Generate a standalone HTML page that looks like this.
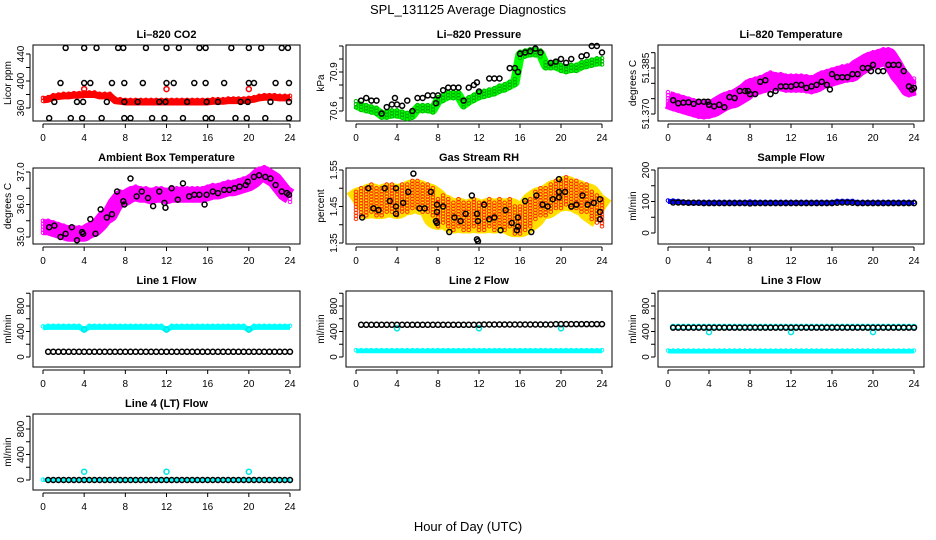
<!DOCTYPE html>
<html><head><meta charset="utf-8"><style>
body{margin:0;background:#fff}
svg{display:block;font-family:"Liberation Sans",sans-serif}
</style></head><body>
<svg id="c" width="936" height="540" viewBox="0 0 936 540">
<text x="468" y="14" text-anchor="middle" font-size="13">SPL_131125  Average Diagnostics</text>
<text x="468" y="531" text-anchor="middle" font-size="13">Hour of Day (UTC)</text>
</svg>
<script>
const HH=[0,0.5,1,1.5,2,2.5,3,3.5,4,4.5,5,5.5,6,6.5,7,7.5,8,8.5,9,9.5,10,10.5,11,11.5,12,12.5,13,13.5,14,14.5,15,15.5,16,16.5,17,17.5,18,18.5,19,19.5,20,20.5,21,21.5,22,22.5,23,23.5,24];
const XTICKS=[0,4,8,12,16,20,24];
// CO2
const co2Band=[372,373,376,377,378,378,379,379,380,380,380,378,378,378,371,370,369,369,369,369,369,369,369,369,369,369,369,369,369,369,369,369,369,370,370,370,371,371,371,371,372,373,375,376,376,376,375,375,375];
const co2RedT=[4,12,20];const co2RedV=[388,388,388];
const co2BlkT=[2.2,4,5.2,7.3,7.8,10,12,13.2,15.2,15.8,18.3,20,21.2,23.2,23.8,1.7,4,4.6,6.7,7.9,9.7,12,12.7,14.7,15.8,17.6,20,20.5,22.6,23.9,1.1,3.3,3.9,6.2,7.9,9.2,11.3,11.9,14,15.9,17,19.2,19.9,22.1,23.9,0.6,2.7,3.8,5.7,7.9,8.5,10.6,11.8,13.6,15.8,16.4,18.7,19.8,21.6,23.9];
const co2BlkV=[449,449,449,449,449,449,449,449,449,449,449,449,449,449,449,397,397,397,397,397,397,397,397,397,397,397,397,397,397,397,369,369,369,369,369,369,369,369,369,369,369,369,369,369,369,345,345,345,345,345,345,345,345,345,345,345,345,345,345,345];
// Pressure
const presBand=[70.65,70.63,70.62,70.61,70.6,70.57,70.57,70.58,70.58,70.57,70.56,70.57,70.62,70.62,70.62,70.61,70.68,70.7,70.72,70.72,70.72,70.65,70.68,70.7,70.72,70.73,70.74,70.75,70.77,70.78,70.8,70.82,71.03,71.04,71.05,71.05,71.04,70.95,70.95,70.95,70.93,70.92,70.93,70.93,70.95,70.96,70.97,70.98,70.98];
const presBlkT=[0.5,1,1.5,2,2.5,3,3.5,3.8,4,4.5,5,5.5,6,6.5,7,7.5,7.8,8,8.5,9,9.5,10,10.5,11,11.5,11.8,12,13,13.5,14,15,15.5,15.8,16,16.5,17,17.5,18,19,19.5,20,20.5,21,22,22.5,23,23.5,24];
const presBlkV=[70.68,70.7,70.68,70.68,70.58,70.63,70.65,70.7,70.65,70.64,70.68,70.6,70.7,70.7,70.72,70.72,70.66,70.72,70.76,70.78,70.78,70.78,70.68,70.78,70.8,70.82,70.75,70.85,70.85,70.85,70.93,70.93,70.9,71.04,71.05,71.06,71.08,71.05,70.97,70.98,71.0,70.97,71.0,71.02,71.03,71.1,71.1,71.05];
// Li-820 temperature
const tempBand=[51.3746,51.374,51.3735,51.373,51.3725,51.372,51.3715,51.3713,51.3715,51.372,51.373,51.374,51.3746,51.375,51.376,51.377,51.3785,51.379,51.3795,51.380,51.381,51.3805,51.3805,51.380,51.380,51.380,51.380,51.3798,51.3795,51.380,51.381,51.3815,51.382,51.3825,51.383,51.3833,51.3835,51.385,51.386,51.387,51.3876,51.388,51.3886,51.3886,51.386,51.383,51.381,51.3785,51.379];
const tempBlkT=[0.5,1,1.5,2,2.5,3,3.5,3.9,4,4.5,5,5.5,6,6.5,7,7.5,7.8,8,8.5,9,9.5,10,10.5,11,11.5,12,12.5,13,13.5,14,14.5,15,15.5,15.8,16,16.5,17,17.5,18,18.5,19,19.5,19.8,20,20.5,21,21.5,22,22.5,23,23.5,23.8,24];
const tempBlkV=[51.3745,51.3735,51.3737,51.3738,51.3733,51.374,51.374,51.374,51.373,51.3725,51.373,51.3722,51.3755,51.3752,51.3775,51.3775,51.3775,51.3765,51.3765,51.3805,51.381,51.3765,51.3775,51.379,51.379,51.379,51.3795,51.3795,51.3785,51.379,51.3795,51.3805,51.3795,51.378,51.383,51.382,51.382,51.382,51.383,51.383,51.385,51.385,51.384,51.386,51.384,51.384,51.386,51.386,51.386,51.384,51.379,51.378,51.3785];
// Ambient
const ambBand=[35.3,35.3,35.25,35.2,35.15,35.1,35.1,35.1,35.1,35.2,35.25,35.4,35.6,35.7,36.0,36.2,36.2,36.3,36.35,36.3,36.3,36.25,36.3,36.3,36.25,36.3,36.3,36.3,36.3,36.3,36.3,36.3,36.35,36.4,36.4,36.45,36.5,36.5,36.55,36.6,36.65,36.75,36.9,36.95,36.85,36.75,36.55,36.35,36.25];
const ambBlkT=[0.6,1.1,1.7,2.2,2.8,3.3,3.8,3.9,4.6,5.1,5.6,6.2,6.7,7.2,7.8,7.9,8.5,9.1,9.6,10.2,10.7,11.3,11.8,11.9,12.5,13.1,13.6,14.2,14.7,15.2,15.7,15.9,16.5,17.0,17.6,18.1,18.6,19.1,19.7,19.9,20.5,21.0,21.6,22.1,22.6,23.2,23.7,23.9];
const ambBlkV=[35.3,35.35,35.0,35.1,35.3,34.9,35.15,35.1,35.55,35.1,35.85,35.6,35.7,36.4,36.1,36.0,36.8,36.25,36.4,36.2,35.95,36.4,36.05,35.9,36.5,36.15,36.65,36.25,36.3,36.3,36.0,36.3,36.4,36.35,36.45,36.45,36.5,36.55,36.6,36.7,36.85,36.9,36.85,36.8,36.6,36.4,36.35,36.3];
// RH
const rhBand=[1.45,1.46,1.46,1.47,1.46,1.46,1.47,1.47,1.46,1.47,1.47,1.48,1.48,1.47,1.47,1.46,1.43,1.44,1.43,1.42,1.43,1.42,1.42,1.43,1.42,1.42,1.43,1.42,1.43,1.42,1.43,1.41,1.41,1.42,1.43,1.45,1.46,1.46,1.47,1.48,1.48,1.49,1.48,1.48,1.47,1.47,1.45,1.44,1.43];
const rhBlkT=[0.6,1.2,1.7,2.2,2.8,3.3,3.9,3.9,3.9,4.6,5.1,5.6,6.2,6.7,7.3,7.9,7.9,7.8,7.9,8.5,9.1,9.6,10.2,10.7,11.3,11.8,11.9,11.8,11.9,12.5,13.0,13.5,14.1,14.6,15.2,15.7,15.8,15.8,16.5,17.1,17.6,18.2,18.7,19.2,19.8,19.8,19.8,20.4,21.0,21.5,22.1,22.6,23.2,23.8,23.8,23.8];
const rhBlkV=[1.42,1.5,1.445,1.44,1.5,1.465,1.5,1.45,1.43,1.46,1.49,1.54,1.445,1.445,1.49,1.455,1.435,1.41,1.405,1.45,1.38,1.42,1.41,1.43,1.48,1.43,1.41,1.36,1.355,1.455,1.415,1.42,1.385,1.44,1.405,1.385,1.395,1.42,1.465,1.38,1.48,1.455,1.45,1.47,1.525,1.49,1.475,1.49,1.45,1.455,1.48,1.455,1.46,1.47,1.435,1.415];
// Flows (half-hourly black values, starting at 0.5 h)
const sfBand=[100,100,99,97,96,96,96,96,96,96,96,96,96,96,96,96,97,96,96,96,96,96,96,96,96,96,96,96,96,96,96,96,96,99,99,99,99,96,96,96,96,96,96,96,96,96,96,96,96];
const sfBlk=[97,97,97,96,96,96,95,95,95,95,95,95,95,95,95,94,95,95,95,95,95,95,95,95,95,95,95,95,95,95,95,95,96,97,97,96,95,95,95,95,95,95,95,95,95,95,95,95];
const l1Cyan=[460,470,470,470,470,470,470,470,430,470,470,470,470,470,470,470,470,470,470,470,470,470,470,470,430,470,470,470,470,470,470,470,470,470,470,470,470,470,470,470,430,470,470,470,470,470,470,470,470];
const l1Blk=[82,82,82,82,82,82,82,82,82,82,82,82,82,82,82,82,82,82,82,82,82,82,82,82,82,82,82,82,82,82,82,82,82,82,82,82,82,82,82,82,82,82,82,82,82,82,82,82];
const l2Cyan=[95,95,95,95,95,95,95,95,95,95,95,95,95,95,95,95,95,95,95,95,95,95,95,95,95,95,95,95,95,95,95,95,95,95,95,95,95,95,95,95,95,95,95,95,95,95,95,95,95];
const l2Blk=[505,505,505,505,505,505,505,505,505,505,505,505,505,505,505,505,505,505,505,505,505,505,505,505,510,510,510,510,510,510,510,510,510,510,510,510,510,510,515,515,515,515,515,515,515,515,515,515];
const l3Cyan=[90,90,90,90,90,90,90,90,90,90,90,90,90,90,90,90,90,90,90,90,90,90,90,90,90,90,90,90,90,90,90,90,90,90,90,90,90,90,90,90,90,90,90,90,90,90,90,90,90];
const l3Blk=[460,460,460,460,460,460,460,460,460,460,460,460,460,460,460,460,460,460,460,460,460,460,460,460,460,460,460,460,460,460,460,460,460,460,460,460,460,460,460,460,460,460,460,460,460,460,460,460];
const l4Cyan=[0,0,0,0,0,0,0,0,0,0,0,0,0,0,0,0,0,0,0,0,0,0,0,0,0,0,0,0,0,0,0,0,0,0,0,0,0,0,0,0,0,0,0,0,0,0,0,0,0];
const l4Blk=[0,0,0,0,0,0,0,0,0,0,0,0,0,0,0,0,0,0,0,0,0,0,0,0,0,0,0,0,0,0,0,0,0,0,0,0,0,0,0,0,0,0,0,0,0,0,0,0];
const dipT=[4,12,20];
const l1DipV=[430,430,430];const l2DipV=[450,450,450];const l3DipV=[390,390,390];const l4DipV=[130,130,130];

const NS='http://www.w3.org/2000/svg';
const svg=document.getElementById('c');
function mk(tag,attrs,parent){const e=document.createElementNS(NS,tag);for(const k in attrs)e.setAttribute(k,attrs[k]);(parent||svg).appendChild(e);return e;}
const COLS=[[33,300],[346,612],[658,924]];
const ROWS=[[45,121],[168,244],[291,367],[414,490]];
function panel(name,title,ylab,col,row,v0,p0,v1,p1,ticks,labels){
  const [x0,x1]=COLS[col],[y0,y1]=ROWS[row];
  const g=mk('g',{});
  
  
  const P={g,x0,x1,y0,y1,sx:t=>x0+10+t/24*(x1-x0-20),sy:v=>y0+(p0-y0)+(v-v0)*(p1-p0)/(v1-v0)};
  const tt=mk('text',{x:(x0+x1)/2,y:y0-7,'text-anchor':'middle','font-size':11,'font-weight':'bold'},g);tt.textContent=title;
  
  
  const yl=mk('text',{transform:`translate(${x0-22},${(y0+y1)/2}) rotate(-90)`,'text-anchor':'middle','font-size':10},g);yl.textContent=ylab;
  
  
  mk('line',{x1:P.sx(0),x2:P.sx(24),y1:y1+3,y2:y1+3,stroke:'#000'},g);
  XTICKS.forEach(t=>{mk('line',{x1:P.sx(t),x2:P.sx(t),y1:y1+3,y2:y1+7,stroke:'#000'},g);
    const l=mk('text',{x:P.sx(t),y:y1+20,'text-anchor':'middle','font-size':10},g);l.textContent=t;
    
    });
  const ya=ticks.map(P.sy);
  mk('line',{x1:x0-3,x2:x0-3,y1:Math.min(...ya),y2:Math.max(...ya),stroke:'#000'},g);
  ticks.forEach((v,i)=>{const y=P.sy(v);mk('line',{x1:x0-3,x2:x0-7,y1:y,y2:y,stroke:'#000'},g);
    if(labels[i]){const l=mk('text',{transform:`translate(${x0-9},${y}) rotate(-90)`,'text-anchor':'middle','font-size':10},g);l.textContent=labels[i];
    
    }});
  mk('rect',{x:x0,y:y0,width:x1-x0,height:y1-y0,fill:'none',stroke:'#000'},g);
  return P;
}
function band(P,ts,vs,spread,stroke,fill){
  const h=Math.abs(P.sy(spread)-P.sy(0))*2+3;
  const pl=mk('polyline',{points:ts.map((t,i)=>P.sx(t)+','+P.sy(vs[i])).join(' '),fill:'none',stroke:fill||stroke,'stroke-width':h,'stroke-linejoin':'round','stroke-linecap':'butt'},P.g);
  
  
  ts.forEach((t,i)=>{const ya=P.sy(vs[i]-spread),yb=P.sy(vs[i]+spread);const lo=Math.min(ya,yb),hi=Math.max(ya,yb);
    for(let y=lo;y<=hi+0.01;y+=3){const c=mk('circle',{cx:P.sx(t),cy:y,r:1.8,fill:'none',stroke,'stroke-width':1},P.g);
      
      }
  });
}
function pts(P,ts,vs,stroke,name){
  ts.forEach((t,i)=>{const c=mk('circle',{cx:P.sx(t),cy:P.sy(vs[i]),r:2.5,fill:'none',stroke,'stroke-width':1.5},P.g);
    
    });
}
const HB=HH.slice(1,49);
let P;
P=panel('panel-co2','Li–820 CO2','Licor ppm',0,0,360,108,440,54,[360,380,400,420,440],['360','','400','','440']);
band(P,HH,co2Band,3,'#ff0000');pts(P,co2RedT,co2RedV,'#ff0000','co2-red-point');pts(P,co2BlkT,co2BlkV,'#000','co2-point');
P=panel('panel-pressure','Li–820 Pressure','kPa',1,0,70.6,111,70.9,72,[70.6,70.7,70.8,70.9,71.0,71.1],['70.6','','','70.9','','']);
band(P,HH,presBand,0.025,'#00b000','#00ff00');pts(P,presBlkT,presBlkV,'#000','pressure-point');
P=panel('panel-temperature','Li–820 Temperature','degrees C',2,0,51.370,114,51.385,68,[51.370,51.375,51.380,51.385,51.390],['51.370','','','51.385','']);
band(P,HH,tempBand,0.0025,'#ff00ff');pts(P,tempBlkT,tempBlkV,'#000','temperature-point');
P=panel('panel-ambient','Ambient Box Temperature','degrees C',0,1,35,237,37,172,[35,35.5,36,36.5,37],['35.0','','36.0','','37.0']);
band(P,HH,ambBand,0.2,'#ff00ff');pts(P,ambBlkT,ambBlkV,'#000','ambient-point');
P=panel('panel-rh','Gas Stream RH','percent',1,1,1.35,243,1.55,170,[1.35,1.40,1.45,1.50,1.55],['1.35','','1.45','','1.55']);
band(P,HH,rhBand,0.04,'#ff3000','#ffe000');pts(P,rhBlkT,rhBlkV,'#000','rh-point');
P=panel('panel-sample-flow','Sample Flow','ml/min',2,1,0,233,200,170,[0,50,100,150,200],['0','','100','','200']);
band(P,HH,sfBand,3,'#0000ff');pts(P,HB,sfBlk,'#000','sample-flow-point');
const FT=[0,200,400,600,800,1000],FL=['0','','400','','800',''];
P=panel('panel-line1-flow','Line 1 Flow','ml/min',0,2,0,357,800,306,FT,FL);
band(P,HH,l1Cyan,20,'#00ffff');pts(P,dipT,l1DipV,'#00e5e5','line1-dip');pts(P,HB,l1Blk,'#000','line1-point');
P=panel('panel-line2-flow','Line 2 Flow','ml/min',1,2,0,357,800,306,FT,FL);
band(P,HH,l2Cyan,12,'#00ffff');pts(P,dipT,l2DipV,'#00e5e5','line2-dip');pts(P,HB,l2Blk,'#000','line2-point');
P=panel('panel-line3-flow','Line 3 Flow','ml/min',2,2,0,357,800,306,FT,FL);
band(P,HH,l3Cyan,12,'#00ffff');pts(P,HB,l3Blk.map(v=>v+12),'#00ffff','line3-cyan-point');pts(P,dipT,l3DipV,'#00e5e5','line3-dip');pts(P,HB,l3Blk,'#000','line3-point');
P=panel('panel-line4-flow','Line 4 (LT) Flow','ml/min',0,3,0,480,800,429,FT,FL);
band(P,HH,l4Cyan,5,'#00ffff');pts(P,dipT,l4DipV,'#00e5e5','line4-dip');pts(P,HB,l4Blk,'#000','line4-point');
</script>
</body></html>
